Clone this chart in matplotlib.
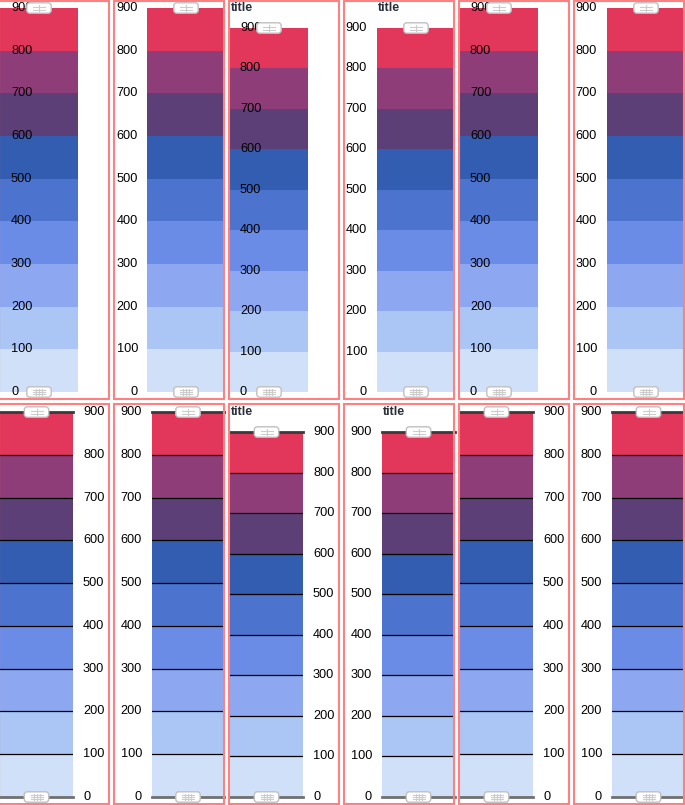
import matplotlib.pyplot as plt
from matplotlib.patches import Rectangle, FancyBboxPatch
from matplotlib.lines import Line2D
from matplotlib.transforms import IdentityTransform

# data
band_edges = [0, 100, 200, 300, 400, 500, 600, 700, 800, 900]
band_colors = ["#cfe0f8", "#abc5f5", "#8da8f0", "#6b8ce6", "#4c73cd",
               "#335db1", "#5c3f76", "#8e3d78", "#e2365a"]
tick_values = [0, 100, 200, 300, 400, 500, 600, 700, 800, 900]
tick_labels = [str(v) for v in tick_values]

W, H = 685, 805
fig = plt.figure(figsize=(W / 100, H / 100), dpi=100)
plt.rcParams['font.family'] = ['Liberation Sans', 'DejaVu Sans']

# panel layout: (bar x0, bar x1, label x, label align, has title)
top_bars = [(0, 78, 11, 'left', False), (147, 225, 138, 'right', False),
            (230, 308, 240, 'left', True), (377, 455, 367, 'right', True),
            (460, 538, 470, 'left', False), (607, 685, 597, 'right', False)]
bot_bars = [(0, 73, 83, 'left', False), (152, 224, 142, 'right', False),
            (230, 303, 313, 'left', True), (382, 455, 372, 'right', True),
            (460, 533, 543, 'left', False), (612, 685, 602, 'right', False)]


def border(x0, y0, x1, y1):
    fig.add_artist(Rectangle((x0, H - y1), x1 - x0, y1 - y0, fill=False,
                             edgecolor="#ff8080", lw=1.5,
                             transform=IdentityTransform()))


def handle(cx, cy, grip):
    fig.add_artist(FancyBboxPatch((cx - 11, H - cy - 4), 22, 8,
                                  boxstyle="round,pad=1.2,rounding_size=3",
                                  facecolor="white", edgecolor="#c0c0c0", lw=1,
                                  transform=IdentityTransform(), zorder=20))
    ys = [-1.5, 1.5] if not grip else [-2, 0, 2]
    for dy in ys:
        fig.add_artist(Line2D([cx - 6, cx + 6], [H - cy + dy, H - cy + dy],
                              color="#cccccc", lw=0.8,
                              transform=IdentityTransform(), zorder=21))
    xs = [0] if not grip else [-3, 0, 3]
    for dx in xs:
        fig.add_artist(Line2D([cx + dx, cx + dx], [H - cy - 3, H - cy + 3],
                              color="#cccccc", lw=0.8,
                              transform=IdentityTransform(), zorder=21))


def panel(spec, ytop, ybot, lined):
    x0, x1, lx, ha, _ = spec
    ax = fig.add_axes([x0 / W, (H - ybot) / H, (x1 - x0) / W, (ybot - ytop) / H])
    for i, c in enumerate(band_colors):
        ax.bar(0.5, band_edges[i + 1] - band_edges[i], bottom=band_edges[i],
               width=1, color=c, linewidth=0)
        if lined and 0 < i:
            ax.axhline(band_edges[i], color="black", lw=0.9)
    ax.set_xlim(0, 1)
    ax.set_ylim(0, 900)
    ax.set_xticks([])
    ax.set_yticks([])
    for s in ax.spines.values():
        s.set_visible(False)
    if lined:
        ax.axhline(900, color="#3a3a3a", lw=2, clip_on=False)
        ax.axhline(0, color="#707070", lw=2, clip_on=False)
    fx = (lx - x0) / (x1 - x0)
    for v, t in zip(tick_values, tick_labels):
        ax.text(fx, v, t, ha=ha, va='center', fontsize=9.2, color="black",
                transform=ax.get_yaxis_transform(), clip_on=False, zorder=10)
    cx = (x0 + x1) / 2
    handle(cx, ytop, False)
    handle(cx, ybot, True)
    return ax


for k in range(6):
    left = -1 + 115 * k
    border(left, 0.5, left + 110, 398.5)
    border(left, 403.5, left + 110, 803.5)

for spec in top_bars:
    ytop = 28 if spec[4] else 8
    panel(spec, ytop, 392, False)
    if spec[4]:
        fig.text((spec[0] + 1) / W, (H - 8) / H, "title", fontsize=9,
                 fontweight='bold', color="#2a2f3a", va='center', ha='left')

for spec in bot_bars:
    ytop = 432 if spec[4] else 412
    panel(spec, ytop, 797, True)
    if spec[4]:
        fig.text((spec[0] + 1) / W, (H - 412) / H, "title", fontsize=9,
                 fontweight='bold', color="#2a2f3a", va='center', ha='left')

fig.savefig("out.png", dpi=100)
